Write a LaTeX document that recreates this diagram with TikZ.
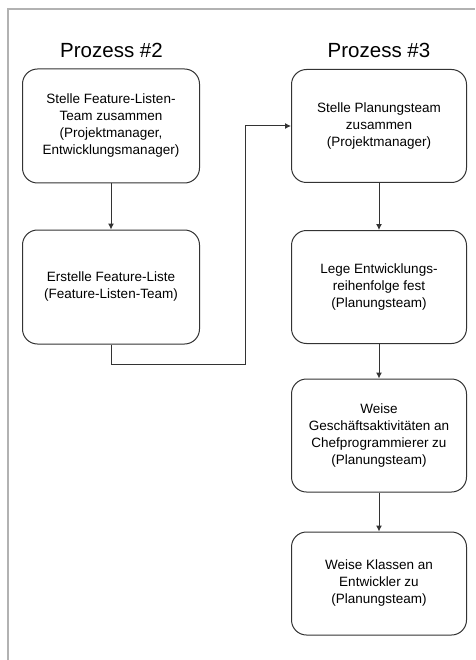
\documentclass[tikz,border=0pt]{standalone}
\usepackage{fontspec}
\setmainfont{Liberation Sans}
\usetikzlibrary{arrows.meta}
\begin{document}
\begin{tikzpicture}[x=1pt,y=-1pt,
  proc/.style={draw=black!80, line width=1pt, rounded corners=15pt, align=center,
    font=\fontsize{13.5}{17}\selectfont, inner sep=0pt},
  title/.style={font=\fontsize{20.5}{24}\selectfont},
  conn/.style={draw=black!80, line width=1pt, -{Latex[length=6pt,width=6pt]}},
  frame/.style={draw=black!30, line width=1.2pt}]
\useasboundingbox (0,0) rectangle (475,660);
\draw[frame] (8,660) -- (8,9) -- (475,9);
\node[title] (t2) at (111.5,50) {Prozess \#2};
\node[title] (t3) at (379,50) {Prozess \#3};
\node[proc, minimum width=177pt, minimum height=114pt] (a) at (111,126) {Stelle Feature-Listen-\\Team zusammen\\(Projektmanager,\\Entwicklungsmanager)};
\node[proc, minimum width=177pt, minimum height=114pt] (b) at (111,287) {Erstelle Feature-Liste\\(Feature-Listen-Team)};
\node[proc, minimum width=175pt, minimum height=113pt] (c) at (379,126) {Stelle Planungsteam\\zusammen\\(Projektmanager)};
\node[proc, minimum width=175pt, minimum height=113pt] (d) at (379,287) {Lege Entwicklungs-\\reihenfolge fest\\(Planungsteam)};
\node[proc, minimum width=175pt, minimum height=113pt] (e) at (379,435.5) {Weise\\Geschäftsaktivitäten an\\Chefprogrammierer zu\\(Planungsteam)};
\node[proc, minimum width=175pt, minimum height=103pt] (f) at (379,583.5) {Weise Klassen an\\Entwickler zu\\(Planungsteam)};
\coordinate (p1) at (111,364);
\coordinate (p2) at (245,364);
\draw[conn] (a) -- (b);
\draw[conn] (b.south) -- (p1) -- (p2) -- (245,126) -- (c.west);
\draw[conn] (c) -- (d);
\draw[conn] (d) -- (e);
\draw[conn] (e) -- (f);
\end{tikzpicture}
\end{document}
